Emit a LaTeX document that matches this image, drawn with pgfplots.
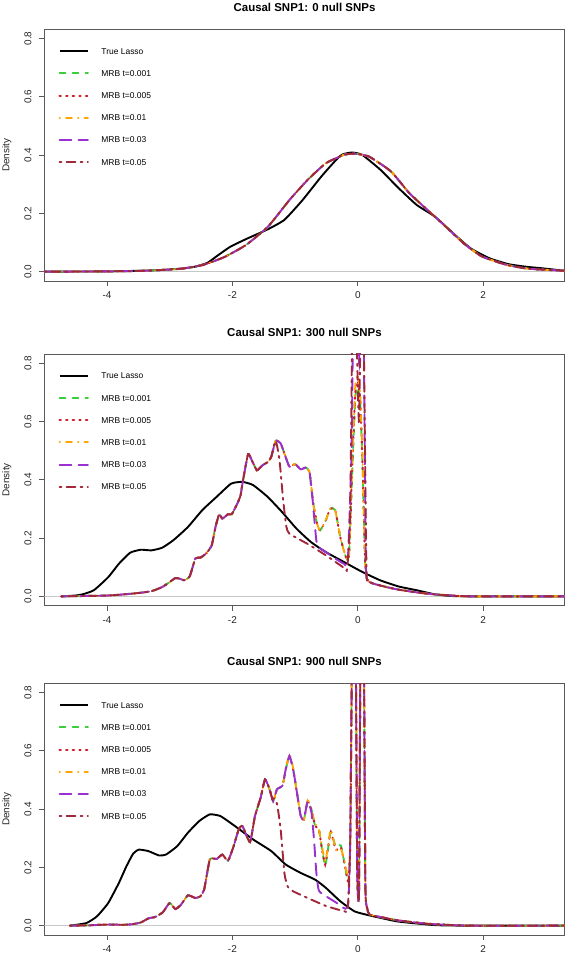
\documentclass[border=0pt]{standalone}
\usepackage{fontspec}
\setmainfont{Liberation Sans}
\usepackage{pgfplots}
\pgfplotsset{compat=1.18}
\definecolor{cgreen}{HTML}{3ACD3A}
\definecolor{cred}{HTML}{D01A2A}
\definecolor{corange}{HTML}{FFA500}
\definecolor{cpurple}{HTML}{9B30D0}
\definecolor{cdark}{HTML}{A0283A}
\pgfplotsset{
  panel/.style={
    scale only axis, width=520.4bp, height=251.7bp, anchor=south west,
    xmin=-5.0, xmax=3.3, ymin=-0.032, ymax=0.832,
    xtick={-4,-2,0,2}, xticklabels={-4,-2,0,2},
    ytick={0,0.2,0.4,0.6,0.8}, yticklabels={0.0,0.2,0.4,0.6,0.8},
    tick align=outside, tick pos=left, major tick length=5bp,
    axis line style={black!65, line width=0.8bp},
    every tick/.style={black!65, line width=0.8bp},
    ticklabel style={font=\fontsize{10}{12}\selectfont, text=black!85},
    xticklabel style={anchor=north, inner sep=0pt},
    xticklabel shift=5.5bp,
    yticklabel style={rotate=90, anchor=base, inner sep=0pt},
    yticklabel shift=8bp,
    ylabel={Density},
    ylabel style={at={(axis description cs:-0.067,0.5)}, anchor=base, rotate=0, inner sep=0pt, font=\fontsize{10}{12}\selectfont, text=black!85},
    title style={at={(axis description cs:0.5,1)}, anchor=base, yshift=12bp, font=\bfseries\fontsize{11.5}{13}\selectfont},
    legend style={at={(axis description cs:0.0269,0.926)}, anchor=north west, draw=none, fill=none,
      font=\fontsize{8.5}{10}\selectfont, row sep=16.2bp, column sep=12.5bp, inner sep=0pt,
      nodes={inner sep=0pt, text height=6bp, text depth=0bp}},
    legend cell align=left,
    legend image code/.code={\draw[##1] (0bp,0bp) -- (28.4bp,0bp);},
  },
  zl/.style={color=black!22, line width=0.9bp, forget plot},
  lasso/.style={black, line width=1.9bp, smooth, tension=0.3},
  m1/.style={cgreen, line width=1.9bp, line cap=round, dash pattern=on 6bp off 7bp, smooth, tension=0.3},
  m2/.style={cred, line width=2bp, line cap=round, dash pattern=on 1.4bp off 5.2bp, smooth, tension=0.3},
  m3/.style={corange, line width=1.9bp, line cap=round, dash pattern=on 0.5bp off 6bp on 6bp off 6bp, smooth, tension=0.3},
  m4/.style={cpurple, line width=1.9bp, line cap=round, dash pattern=on 12bp off 7bp, smooth, tension=0.3},
  m5/.style={cdark, line width=1.9bp, line cap=round, dash pattern=on 2bp off 5bp on 9bp off 5bp, smooth, tension=0.3},
}
\begin{document}
\begin{tikzpicture}
\useasboundingbox (0,0) rectangle (567bp,958bp);
% ---------------- Panel 1
\begin{axis}[panel, at={(44.3bp,677bp)}, title={Causal SNP1: 0 null SNPs}]
\addplot[zl] coordinates {(-6,0) (4,0)};
\addplot[lasso] coordinates {(-5.0,0) (-4.0,0.001) (-3.5,0.003) (-3.1,0.006) (-2.8,0.011) (-2.6,0.017) (-2.4,0.03) (-2.27,0.05) (-2.03,0.086) (-1.75,0.115) (-1.43,0.146) (-1.17,0.178) (-0.88,0.246) (-0.58,0.327) (-0.28,0.398) (-0.1,0.409) (0.07,0.401) (0.36,0.35) (0.65,0.287) (0.94,0.229) (1.23,0.189) (1.52,0.132) (1.8,0.08) (2.1,0.046) (2.4,0.026) (2.68,0.017) (2.97,0.011) (3.3,0.003)};
\addplot[m1] coordinates {(-5.0,0) (-4.0,0.001) (-3.4,0.003) (-2.82,0.01) (-2.47,0.023) (-2.13,0.05) (-1.78,0.092) (-1.43,0.155) (-1.09,0.246) (-0.8,0.315) (-0.51,0.372) (-0.22,0.401) (-0.05,0.405) (0.18,0.395) (0.53,0.344) (0.82,0.27) (1.11,0.212) (1.4,0.155) (1.69,0.097) (1.98,0.052) (2.38,0.023) (2.73,0.01) (3.3,0.003)};
\addplot[m2] coordinates {(-5.0,0) (-4.0,0.001) (-3.4,0.003) (-2.82,0.01) (-2.47,0.023) (-2.13,0.05) (-1.78,0.092) (-1.43,0.155) (-1.09,0.246) (-0.8,0.315) (-0.51,0.372) (-0.22,0.401) (-0.05,0.405) (0.18,0.395) (0.53,0.344) (0.82,0.27) (1.11,0.212) (1.4,0.155) (1.69,0.097) (1.98,0.052) (2.38,0.023) (2.73,0.01) (3.3,0.003)};
\addplot[m3] coordinates {(-5.0,0) (-4.0,0.001) (-3.4,0.003) (-2.82,0.01) (-2.47,0.023) (-2.13,0.05) (-1.78,0.092) (-1.43,0.155) (-1.09,0.246) (-0.8,0.315) (-0.51,0.372) (-0.22,0.401) (-0.05,0.405) (0.18,0.395) (0.53,0.344) (0.82,0.27) (1.11,0.212) (1.4,0.155) (1.69,0.097) (1.98,0.052) (2.38,0.023) (2.73,0.01) (3.3,0.003)};
\addplot[m4] coordinates {(-5.0,0) (-4.0,0.001) (-3.4,0.003) (-2.82,0.01) (-2.47,0.023) (-2.13,0.05) (-1.78,0.092) (-1.43,0.155) (-1.09,0.246) (-0.8,0.315) (-0.51,0.372) (-0.22,0.401) (-0.05,0.405) (0.18,0.395) (0.53,0.344) (0.82,0.27) (1.11,0.212) (1.4,0.155) (1.69,0.097) (1.98,0.052) (2.38,0.023) (2.73,0.01) (3.3,0.003)};
\addplot[m5] coordinates {(-5.0,0) (-4.0,0.001) (-3.4,0.003) (-2.82,0.01) (-2.47,0.023) (-2.13,0.05) (-1.78,0.092) (-1.43,0.155) (-1.09,0.246) (-0.8,0.315) (-0.51,0.372) (-0.22,0.401) (-0.05,0.405) (0.18,0.395) (0.53,0.344) (0.82,0.27) (1.11,0.212) (1.4,0.155) (1.69,0.097) (1.98,0.052) (2.38,0.023) (2.73,0.01) (3.3,0.003)};
\legend{True Lasso, MRB t=0.001, MRB t=0.005, MRB t=0.01, MRB t=0.03, MRB t=0.05}
\end{axis}
% ---------------- Panel 2
\begin{axis}[panel, at={(44.3bp,352.3bp)}, title={Causal SNP1: 300 null SNPs}]
\addplot[zl] coordinates {(-6,0) (4,0)};
\addplot[lasso] coordinates {(-4.73,0) (-4.5,0.003) (-4.39,0.007) (-4.21,0.021) (-3.98,0.066) (-3.81,0.112) (-3.63,0.15) (-3.46,0.16) (-3.29,0.158) (-3.12,0.167) (-2.94,0.193) (-2.71,0.238) (-2.48,0.296) (-2.25,0.342) (-2.02,0.387) (-1.84,0.393) (-1.67,0.382) (-1.44,0.342) (-1.21,0.29) (-0.98,0.233) (-0.75,0.187) (-0.51,0.152) (-0.22,0.118) (0.07,0.084) (0.36,0.055) (0.65,0.034) (0.94,0.021) (1.23,0.007) (1.52,0.001) (2.0,0) (3.3,0)};
\addplot[m1] coordinates {(-4.73,0) (-3.98,0.003) (-3.52,0.011) (-3.29,0.018) (-3.12,0.032) (-3.0,0.049) (-2.91,0.063) (-2.83,0.06) (-2.77,0.055) (-2.68,0.069) (-2.59,0.13) (-2.51,0.133) (-2.42,0.147) (-2.33,0.175) (-2.27,0.238) (-2.21,0.282) (-2.16,0.267) (-2.07,0.282) (-2.01,0.282) (-1.92,0.319) (-1.87,0.347) (-1.83,0.399) (-1.75,0.488) (-1.69,0.467) (-1.61,0.433) (-1.52,0.45) (-1.43,0.462) (-1.38,0.479) (-1.31,0.534) (-1.23,0.525) (-1.17,0.49) (-1.09,0.445) (-1.0,0.454) (-0.91,0.436) (-0.83,0.442) (-0.77,0.427) (-0.71,0.319) (-0.65,0.25) (-0.6,0.227) (-0.51,0.261) (-0.44,0.301) (-0.36,0.296) (-0.28,0.204) (-0.19,0.135) (-0.14,0.14) (-0.09,0.42) (-0.04,0.68) (0.0,0.72) (0.04,0.66) (0.08,0.42) (0.12,0.1) (0.18,0.05) (0.4,0.035) (0.65,0.023) (1.0,0.012) (1.23,0.007) (1.5,0.003) (1.8,0) (3.3,0)};
\addplot[m2] coordinates {(-4.73,0) (-3.98,0.003) (-3.52,0.011) (-3.29,0.018) (-3.12,0.032) (-3.0,0.049) (-2.91,0.063) (-2.83,0.06) (-2.77,0.055) (-2.68,0.069) (-2.59,0.13) (-2.51,0.133) (-2.42,0.147) (-2.33,0.175) (-2.27,0.238) (-2.21,0.282) (-2.16,0.267) (-2.07,0.282) (-2.01,0.282) (-1.92,0.319) (-1.87,0.347) (-1.83,0.399) (-1.75,0.488) (-1.69,0.467) (-1.61,0.433) (-1.52,0.45) (-1.43,0.462) (-1.38,0.479) (-1.31,0.534) (-1.23,0.525) (-1.17,0.49) (-1.09,0.445) (-1.0,0.454) (-0.91,0.436) (-0.83,0.442) (-0.77,0.427) (-0.71,0.319) (-0.65,0.25) (-0.6,0.227) (-0.51,0.261) (-0.44,0.301) (-0.36,0.296) (-0.28,0.204) (-0.19,0.135) (-0.14,0.14) (-0.09,0.43) (-0.04,0.7) (0.0,0.74) (0.04,0.67) (0.08,0.42) (0.12,0.1) (0.18,0.05) (0.4,0.035) (0.65,0.023) (1.0,0.012) (1.23,0.007) (1.5,0.003) (1.8,0) (3.3,0)};
\addplot[m3] coordinates {(-4.73,0) (-3.98,0.003) (-3.52,0.011) (-3.29,0.018) (-3.12,0.032) (-3.0,0.049) (-2.91,0.063) (-2.83,0.06) (-2.77,0.055) (-2.68,0.069) (-2.59,0.13) (-2.51,0.133) (-2.42,0.147) (-2.33,0.175) (-2.27,0.238) (-2.21,0.282) (-2.16,0.267) (-2.07,0.282) (-2.01,0.282) (-1.92,0.319) (-1.87,0.347) (-1.83,0.399) (-1.75,0.488) (-1.69,0.467) (-1.61,0.433) (-1.52,0.45) (-1.43,0.462) (-1.38,0.479) (-1.31,0.534) (-1.23,0.525) (-1.17,0.49) (-1.09,0.445) (-1.0,0.454) (-0.91,0.436) (-0.83,0.442) (-0.77,0.427) (-0.71,0.319) (-0.65,0.25) (-0.6,0.227) (-0.51,0.261) (-0.44,0.301) (-0.36,0.296) (-0.28,0.204) (-0.19,0.135) (-0.14,0.14) (-0.09,0.45) (-0.04,0.72) (0.0,0.76) (0.04,0.69) (0.08,0.44) (0.12,0.1) (0.18,0.05) (0.4,0.035) (0.65,0.023) (1.0,0.012) (1.23,0.007) (1.5,0.003) (1.8,0) (3.3,0)};
\addplot[m4] coordinates {(-4.73,0) (-3.98,0.003) (-3.52,0.011) (-3.29,0.018) (-3.12,0.032) (-3.0,0.049) (-2.91,0.063) (-2.83,0.06) (-2.77,0.055) (-2.68,0.069) (-2.59,0.13) (-2.51,0.133) (-2.42,0.147) (-2.33,0.175) (-2.27,0.238) (-2.21,0.282) (-2.16,0.267) (-2.07,0.282) (-2.01,0.282) (-1.92,0.319) (-1.87,0.347) (-1.83,0.399) (-1.75,0.488) (-1.69,0.467) (-1.61,0.433) (-1.52,0.45) (-1.43,0.462) (-1.38,0.479) (-1.31,0.534) (-1.23,0.525) (-1.17,0.49) (-1.09,0.445) (-1.0,0.454) (-0.91,0.436) (-0.83,0.442) (-0.77,0.427) (-0.72,0.33) (-0.66,0.19) (-0.6,0.165) (-0.51,0.152) (-0.36,0.13) (-0.22,0.112) (-0.16,0.12) (-0.1,0.5) (-0.06,1.2) (-0.02,1.1) (0.02,0.8) (0.05,1.2) (0.09,1.0) (0.13,0.1) (0.18,0.05) (0.4,0.035) (0.65,0.023) (1.0,0.012) (1.23,0.007) (1.5,0.003) (1.8,0) (3.3,0)};
\addplot[m5] coordinates {(-4.73,0) (-3.98,0.003) (-3.52,0.011) (-3.29,0.018) (-3.12,0.032) (-3.0,0.049) (-2.91,0.063) (-2.83,0.06) (-2.77,0.055) (-2.68,0.069) (-2.59,0.13) (-2.51,0.133) (-2.42,0.147) (-2.33,0.175) (-2.27,0.238) (-2.21,0.282) (-2.16,0.267) (-2.07,0.282) (-2.01,0.282) (-1.92,0.319) (-1.87,0.347) (-1.83,0.399) (-1.75,0.488) (-1.69,0.467) (-1.61,0.433) (-1.52,0.45) (-1.43,0.462) (-1.38,0.479) (-1.31,0.534) (-1.25,0.47) (-1.19,0.33) (-1.14,0.24) (-1.09,0.215) (-0.8,0.18) (-0.51,0.141) (-0.22,0.098) (-0.17,0.095) (-0.12,0.3) (-0.07,1.3) (-0.03,1.0) (0.02,0.6) (0.07,1.3) (0.11,0.6) (0.14,0.08) (0.18,0.05) (0.4,0.035) (0.65,0.023) (1.0,0.012) (1.23,0.007) (1.5,0.003) (1.8,0) (3.3,0)};
\legend{True Lasso, MRB t=0.001, MRB t=0.005, MRB t=0.01, MRB t=0.03, MRB t=0.05}
\end{axis}
% ---------------- Panel 3
\begin{axis}[panel, at={(44.3bp,23bp)}, title={Causal SNP1: 900 null SNPs}]
\addplot[zl] coordinates {(-6,0) (4,0)};
\addplot[lasso] coordinates {(-4.59,0) (-4.33,0.009) (-4.16,0.032) (-3.98,0.078) (-3.81,0.147) (-3.69,0.204) (-3.58,0.248) (-3.49,0.261) (-3.34,0.256) (-3.17,0.241) (-3.06,0.244) (-2.88,0.273) (-2.71,0.319) (-2.53,0.359) (-2.36,0.382) (-2.19,0.376) (-1.96,0.342) (-1.67,0.296) (-1.38,0.256) (-1.15,0.21) (-0.91,0.181) (-0.68,0.158) (-0.51,0.13) (-0.28,0.084) (-0.05,0.049) (0.19,0.035) (0.4,0.025) (0.65,0.014) (1.23,0.002) (1.8,0) (3.3,0)};
\addplot[m1] coordinates {(-4.59,0) (-4.3,0.001) (-3.98,0.004) (-3.75,0.003) (-3.6,0.005) (-3.46,0.011) (-3.34,0.025) (-3.23,0.03) (-3.11,0.046) (-3.0,0.078) (-2.91,0.057) (-2.82,0.072) (-2.71,0.104) (-2.59,0.095) (-2.51,0.101) (-2.45,0.124) (-2.36,0.227) (-2.25,0.229) (-2.16,0.244) (-2.07,0.223) (-1.98,0.273) (-1.9,0.33) (-1.84,0.342) (-1.72,0.287) (-1.64,0.376) (-1.55,0.439) (-1.48,0.502) (-1.41,0.47) (-1.35,0.427) (-1.29,0.468) (-1.2,0.481) (-1.15,0.536) (-1.09,0.582) (-1.03,0.536) (-0.97,0.456) (-0.91,0.376) (-0.86,0.364) (-0.8,0.427) (-0.74,0.399) (-0.68,0.342) (-0.62,0.33) (-0.57,0.261) (-0.52,0.205) (-0.48,0.255) (-0.43,0.322) (-0.35,0.27) (-0.27,0.275) (-0.2,0.2) (-0.15,0.15) (-0.12,0.3) (-0.08,1.2) (-0.04,1.2) (-0.01,0.2) (0.02,0.12) (0.05,1.2) (0.09,1.2) (0.12,0.15) (0.15,0.06) (0.19,0.038) (0.4,0.028) (0.65,0.018) (1.0,0.009) (1.23,0.005) (1.8,0) (3.3,0)};
\addplot[m2] coordinates {(-4.59,0) (-4.3,0.001) (-3.98,0.004) (-3.75,0.003) (-3.6,0.005) (-3.46,0.011) (-3.34,0.025) (-3.23,0.03) (-3.11,0.046) (-3.0,0.078) (-2.91,0.057) (-2.82,0.072) (-2.71,0.104) (-2.59,0.095) (-2.51,0.101) (-2.45,0.124) (-2.36,0.227) (-2.25,0.229) (-2.16,0.244) (-2.07,0.223) (-1.98,0.273) (-1.9,0.33) (-1.84,0.342) (-1.72,0.287) (-1.64,0.376) (-1.55,0.439) (-1.48,0.502) (-1.41,0.47) (-1.35,0.427) (-1.29,0.468) (-1.2,0.481) (-1.15,0.536) (-1.09,0.582) (-1.03,0.536) (-0.97,0.456) (-0.91,0.376) (-0.86,0.364) (-0.8,0.427) (-0.74,0.399) (-0.68,0.342) (-0.62,0.33) (-0.57,0.261) (-0.52,0.21) (-0.48,0.261) (-0.43,0.322) (-0.35,0.26) (-0.27,0.27) (-0.2,0.2) (-0.15,0.15) (-0.12,0.3) (-0.08,1.2) (-0.04,1.2) (-0.01,0.2) (0.02,0.12) (0.05,1.2) (0.09,1.2) (0.12,0.15) (0.15,0.06) (0.19,0.038) (0.4,0.028) (0.65,0.018) (1.0,0.009) (1.23,0.005) (1.8,0) (3.3,0)};
\addplot[m3] coordinates {(-4.59,0) (-4.3,0.001) (-3.98,0.004) (-3.75,0.003) (-3.6,0.005) (-3.46,0.011) (-3.34,0.025) (-3.23,0.03) (-3.11,0.046) (-3.0,0.078) (-2.91,0.057) (-2.82,0.072) (-2.71,0.104) (-2.59,0.095) (-2.51,0.101) (-2.45,0.124) (-2.36,0.227) (-2.25,0.229) (-2.16,0.244) (-2.07,0.223) (-1.98,0.273) (-1.9,0.33) (-1.84,0.342) (-1.72,0.287) (-1.64,0.376) (-1.55,0.439) (-1.48,0.502) (-1.41,0.47) (-1.35,0.427) (-1.29,0.468) (-1.2,0.481) (-1.15,0.536) (-1.09,0.588) (-1.03,0.54) (-0.97,0.456) (-0.91,0.376) (-0.86,0.364) (-0.8,0.43) (-0.74,0.399) (-0.68,0.35) (-0.62,0.33) (-0.57,0.27) (-0.52,0.22) (-0.48,0.265) (-0.43,0.33) (-0.35,0.26) (-0.27,0.265) (-0.2,0.21) (-0.15,0.16) (-0.12,0.3) (-0.08,1.2) (-0.04,1.2) (-0.01,0.2) (0.02,0.12) (0.05,1.2) (0.09,1.2) (0.12,0.15) (0.15,0.06) (0.19,0.038) (0.4,0.028) (0.65,0.018) (1.0,0.009) (1.23,0.005) (1.8,0) (3.3,0)};
\addplot[m4] coordinates {(-4.59,0) (-4.3,0.001) (-3.98,0.004) (-3.75,0.003) (-3.6,0.005) (-3.46,0.011) (-3.34,0.025) (-3.23,0.03) (-3.11,0.046) (-3.0,0.078) (-2.91,0.057) (-2.82,0.072) (-2.71,0.104) (-2.59,0.095) (-2.51,0.101) (-2.45,0.124) (-2.36,0.227) (-2.25,0.229) (-2.16,0.244) (-2.07,0.223) (-1.98,0.273) (-1.9,0.33) (-1.84,0.342) (-1.72,0.287) (-1.64,0.376) (-1.55,0.439) (-1.48,0.502) (-1.41,0.47) (-1.35,0.427) (-1.29,0.468) (-1.2,0.481) (-1.15,0.536) (-1.09,0.582) (-1.03,0.536) (-0.97,0.456) (-0.91,0.376) (-0.86,0.364) (-0.8,0.427) (-0.74,0.39) (-0.7,0.3) (-0.66,0.18) (-0.62,0.12) (-0.5,0.1) (-0.35,0.08) (-0.2,0.058) (-0.15,0.08) (-0.12,0.3) (-0.08,1.2) (-0.04,1.2) (-0.01,0.2) (0.02,0.12) (0.05,1.2) (0.09,1.2) (0.12,0.15) (0.15,0.06) (0.19,0.038) (0.4,0.028) (0.65,0.018) (1.0,0.009) (1.23,0.005) (1.8,0) (3.3,0)};
\addplot[m5] coordinates {(-4.59,0) (-4.3,0.001) (-3.98,0.004) (-3.75,0.003) (-3.6,0.005) (-3.46,0.011) (-3.34,0.025) (-3.23,0.03) (-3.11,0.046) (-3.0,0.078) (-2.91,0.057) (-2.82,0.072) (-2.71,0.104) (-2.59,0.095) (-2.51,0.101) (-2.45,0.124) (-2.36,0.227) (-2.25,0.229) (-2.16,0.244) (-2.07,0.223) (-1.98,0.273) (-1.9,0.33) (-1.84,0.342) (-1.72,0.287) (-1.64,0.376) (-1.55,0.439) (-1.48,0.502) (-1.41,0.47) (-1.35,0.427) (-1.29,0.42) (-1.23,0.33) (-1.17,0.18) (-1.12,0.135) (-1.03,0.118) (-0.8,0.095) (-0.51,0.068) (-0.22,0.05) (-0.16,0.06) (-0.12,0.3) (-0.08,1.2) (-0.04,1.2) (-0.01,0.2) (0.02,0.12) (0.05,1.2) (0.09,1.2) (0.12,0.15) (0.15,0.06) (0.19,0.038) (0.4,0.028) (0.65,0.018) (1.0,0.009) (1.23,0.005) (1.8,0) (3.3,0)};
\legend{True Lasso, MRB t=0.001, MRB t=0.005, MRB t=0.01, MRB t=0.03, MRB t=0.05}
\end{axis}
\end{tikzpicture}
\end{document}
